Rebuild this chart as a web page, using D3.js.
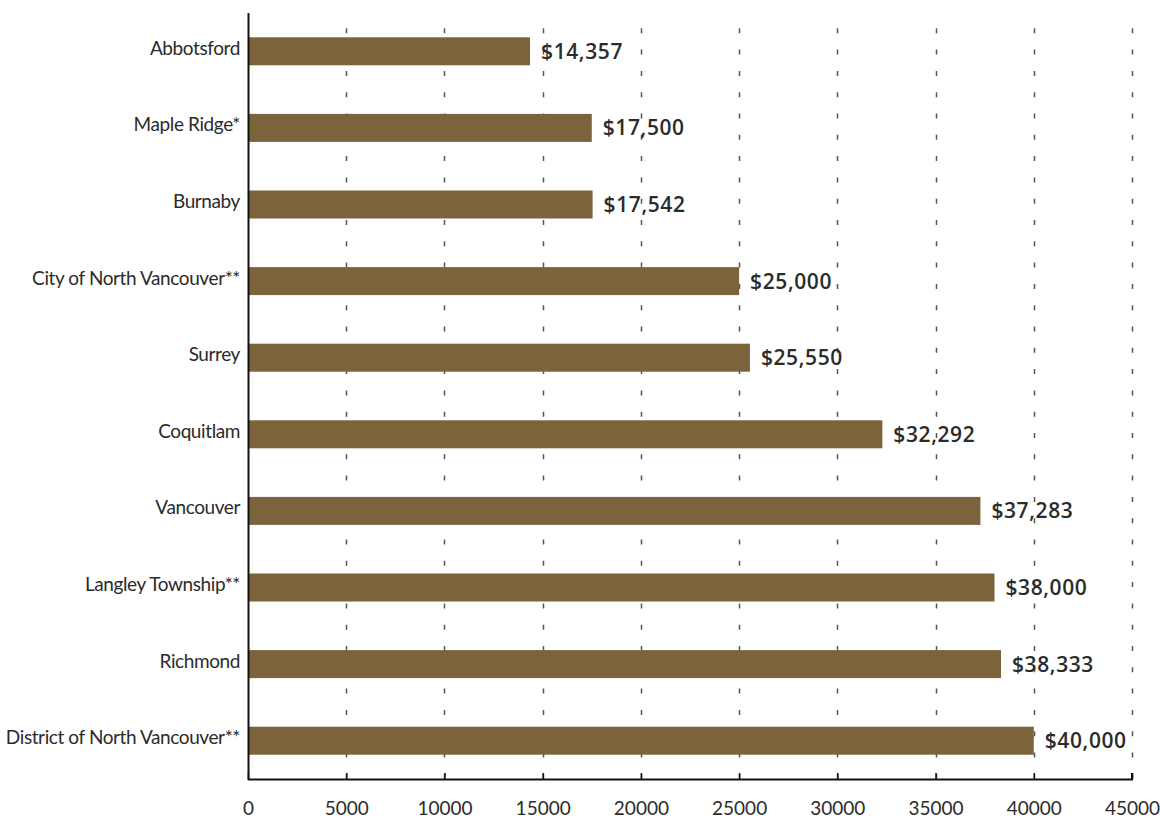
<!DOCTYPE html>
<html>
<head>
<meta charset="utf-8">
<script src="https://cdn.jsdelivr.net/npm/d3@7"></script>
<style>
  html, body { margin: 0; padding: 0; background: #fff; }
  svg { display: block; }
</style>
</head>
<body>
<svg id="chart" width="1160" height="818"></svg>
<script>
// Municipalities, listed top to bottom
const categories = [
  "Abbotsford",
  "Maple Ridge*",
  "Burnaby",
  "City of North Vancouver**",
  "Surrey",
  "Coquitlam",
  "Vancouver",
  "Langley Township**",
  "Richmond",
  "District of North Vancouver**"
];
// Amount in dollars for each municipality
const values = [14357, 17500, 17542, 25000, 25550, 32292, 37283, 38000, 38333, 40000];
// Horizontal axis ticks
const tickValues = [0, 5000, 10000, 15000, 20000, 25000, 30000, 35000, 40000, 45000];

const svg = d3.select("#chart");
const plotLeft = 248, plotRight = 1132, plotTop = 13, plotBottom = 779;
const barColor = "#7b633b";
const textColor = "#2b2b2b";

const x = d3.scaleLinear().domain([0, 45000]).range([plotLeft, plotRight]);
const y = d3.scaleBand().domain(categories).range([plotTop, plotBottom]).padding(0);
const barH = 28;

// dashed vertical gridlines
svg.append("g")
  .selectAll("line")
  .data(tickValues.slice(1))
  .join("line")
  .attr("x1", d => Math.round(x(d)) + 0.5)
  .attr("x2", d => Math.round(x(d)) + 0.5)
  .attr("y1", plotTop)
  .attr("y2", plotBottom)
  .attr("stroke", "#555")
  .attr("stroke-width", 1.5)
  .attr("stroke-dasharray", "5 16.3")
  .attr("stroke-dashoffset", 6);

// bars
svg.append("g")
  .selectAll("rect")
  .data(values)
  .join("rect")
  .attr("x", x(0))
  .attr("y", (d, i) => y(categories[i]) + y.bandwidth() / 2 - barH / 2)
  .attr("width", d => x(d) - x(0))
  .attr("height", barH)
  .attr("fill", barColor);

// value labels
const fmt = d3.format(",");
svg.append("g")
  .selectAll("text")
  .data(values)
  .join("text")
  .attr("x", d => x(d) + 11)
  .attr("y", (d, i) => y(categories[i]) + y.bandwidth() / 2 + 7.5)
  .attr("font-family", "'Open Sans', Lato, sans-serif")
  .attr("font-weight", 600)
  .attr("font-size", 21)
  .attr("letter-spacing", 0.6)
  .attr("fill", textColor)
  .text(d => "$" + fmt(d));

// category labels
svg.append("g")
  .selectAll("text")
  .data(categories)
  .join("text")
  .attr("x", plotLeft - 8)
  .attr("y", d => y(d) + y.bandwidth() / 2 + 3.5)
  .attr("text-anchor", "end")
  .attr("font-family", "Lato, 'Open Sans', sans-serif")
  .attr("font-size", 19)
  .attr("letter-spacing", -0.4)
  .attr("fill", textColor)
  .text(d => d);

// x axis
const xAxis = d3.axisBottom(x).tickValues(tickValues).tickFormat(d3.format("d")).tickSize(6).tickPadding(17);
const gx = svg.append("g").attr("transform", `translate(0,${plotBottom})`).call(xAxis);
gx.select(".domain").attr("stroke", "#111").attr("stroke-width", 2).attr("d", `M${plotLeft},0.5H${plotRight}V-6`);
gx.selectAll(".tick line").attr("stroke", "#111").attr("stroke-width", 1.5).attr("y1", -6).attr("y2", 0);
gx.selectAll(".tick text")
  .attr("font-family", "Lato, 'Open Sans', sans-serif")
  .attr("font-size", 19)
  .attr("fill", textColor);

// y axis line
svg.append("line")
  .attr("x1", plotLeft + 0.5).attr("x2", plotLeft + 0.5)
  .attr("y1", plotTop).attr("y2", plotBottom + 1)
  .attr("stroke", "#111").attr("stroke-width", 2);
</script>
</body>
</html>
